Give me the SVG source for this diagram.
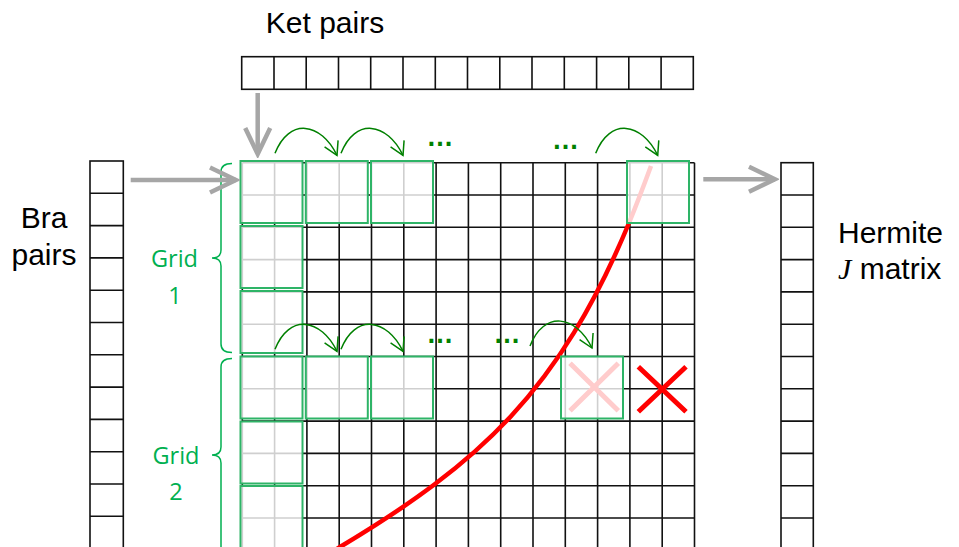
<svg xmlns="http://www.w3.org/2000/svg" width="959" height="547" viewBox="0 0 959 547">
<defs>
<style>
.cell{fill:none;stroke:#111;stroke-width:1.6}
.lbl{font-family:"Liberation Sans",Arial,sans-serif;font-size:30px;fill:#000}
.glbl{font-family:"Open Sans","Liberation Sans",sans-serif;font-size:23.5px;fill:#00B050;text-anchor:middle}
.blk{fill:#fff;fill-opacity:0.8;stroke:#2EB467;stroke-width:2}
.brace{fill:none;stroke:#00B050;stroke-width:1.5}
.gray{fill:none;stroke:#A6A6A6;stroke-width:4.5;marker-end:url(#grayhead)}
.hop{fill:none;stroke:#008000;stroke-width:1.5;marker-end:url(#greenhead)}
.dots{font-family:"Liberation Sans",sans-serif;font-size:27px;font-weight:bold;fill:#008000;text-anchor:middle}
.red{fill:none;stroke:#FF0000;stroke-width:4.5}
.x{fill:none;stroke:#FF0000;stroke-width:5}
</style>
<marker id="grayhead" markerUnits="userSpaceOnUse" viewBox="-4 -16 34 32" markerWidth="34" markerHeight="32" refX="26" refY="0" orient="auto">
<path d="M0,-12.5 L26,0 L0,12.5" fill="none" stroke="#A6A6A6" stroke-width="4.5"/>
</marker>
<marker id="greenhead" markerUnits="userSpaceOnUse" viewBox="-2 -10 18 20" markerWidth="18" markerHeight="20" refX="13" refY="0" orient="auto">
<path d="M0,-7.5 L13,0 L0,7.5" fill="none" stroke="#008000" stroke-width="1.5"/>
</marker>
</defs>
<rect width="959" height="547" fill="#fff"/>

<g id="ket-pairs">
<text class="lbl" x="325" y="33" text-anchor="middle">Ket pairs</text>
<rect class="cell" x="241.7" y="56.7" width="451.6" height="32.6"/>
<path class="cell" d="M274,56.7V89.3M306.2,56.7V89.3M338.5,56.7V89.3M370.7,56.7V89.3M403,56.7V89.3M435.3,56.7V89.3M467.5,56.7V89.3M499.8,56.7V89.3M532,56.7V89.3M564.3,56.7V89.3M596.6,56.7V89.3M628.8,56.7V89.3M661.1,56.7V89.3"/>
</g>

<g id="bra-pairs">
<text class="lbl" x="44" y="228" text-anchor="middle">Bra</text>
<text class="lbl" x="44" y="265" text-anchor="middle">pairs</text>
<rect class="cell" x="90" y="161" width="33.3" height="400"/>
<path class="cell" d="M90,193.3H123.3M90,225.6H123.3M90,257.9H123.3M90,290.2H123.3M90,322.5H123.3M90,354.8H123.3M90,387.1H123.3M90,419.4H123.3M90,451.7H123.3M90,484H123.3M90,516.3H123.3"/>
</g>

<g id="hermite-j-matrix">
<text class="lbl" x="838" y="243">Hermite</text>
<text class="lbl" x="838" y="279"><tspan font-family="'Liberation Serif',serif" font-style="italic">J</tspan> matrix</text>
<rect class="cell" x="781" y="162.7" width="32.3" height="400"/>
<path class="cell" d="M781,195H813.3M781,227.3H813.3M781,259.6H813.3M781,291.9H813.3M781,324.2H813.3M781,356.5H813.3M781,388.8H813.3M781,421.1H813.3M781,453.4H813.3M781,485.7H813.3M781,518H813.3"/>
</g>

<g id="matrix-grid">
<path class="cell" d="M242.3,162.7V560M274.6,162.7V560M306.9,162.7V560M339.2,162.7V560M371.5,162.7V560M403.8,162.7V560M436.1,162.7V560M468.4,162.7V560M500.7,162.7V560M533,162.7V560M565.3,162.7V560M597.6,162.7V560M629.9,162.7V560M662.2,162.7V560M694.5,162.7V560
M242.3,162.7H694.5M242.3,195H694.5M242.3,227.3H694.5M242.3,259.6H694.5M242.3,291.9H694.5M242.3,324.2H694.5M242.3,356.5H694.5M242.3,388.8H694.5M242.3,421.1H694.5M242.3,453.4H694.5M242.3,485.7H694.5M242.3,518H694.5"/>
</g>

<g id="cutoff">
<path class="red" d="M336,549.5 L340,547 C480,463 559,391 629,223 C636,206 644,185 651,166"/>
<path class="x" d="M570,363.3L618.3,410.7M618.3,363.3L570,410.7"/>
<path class="x" d="M638.3,366.7L686,411.7M686,366.7L638.3,411.7"/>
</g>

<g id="grid1">
<rect class="blk" x="240.5" y="161" width="62" height="62"/>
<rect class="blk" x="305.8" y="161" width="62" height="62"/>
<rect class="blk" x="371" y="161" width="62" height="62"/>
<rect class="blk" x="627" y="161" width="62" height="62"/>
<rect class="blk" x="240.5" y="226" width="62" height="62"/>
<rect class="blk" x="240.5" y="291" width="62" height="62"/>
<path class="brace" d="M232,163.5 Q221,163.5 221,172 L221,250 Q221,258 212,258 Q221,258 221,266 L221,344 Q221,352.5 232,352.5"/>
<text class="glbl" x="174.5" y="266.5">Grid</text>
<text class="glbl" x="175" y="303.5">1</text>
</g>

<g id="grid2">
<rect class="blk" x="240.5" y="356.5" width="62" height="62"/>
<rect class="blk" x="305.8" y="356.5" width="62" height="62"/>
<rect class="blk" x="371" y="356.5" width="62" height="62"/>
<rect class="blk" x="561" y="356.5" width="62" height="62"/>
<rect class="blk" x="240.5" y="421.5" width="62" height="62"/>
<rect class="blk" x="240.5" y="486" width="62" height="70"/>
<path class="brace" d="M232,358.5 Q221,358.5 221,367 L221,447 Q221,455 212,455 Q221,455 221,463 L221,560"/>
<text class="glbl" x="176" y="463.5">Grid</text>
<text class="glbl" x="176" y="500">2</text>
</g>

<g id="connectors">
<path class="gray" d="M257.7,93V154"/>
<path class="gray" d="M130.7,180H236"/>
<path class="gray" d="M703.3,179.3H775"/>
<path class="hop" d="M275,153.3c14,-36 46,-31 62,2"/>
<path class="hop" d="M341,153.3c14,-36 46,-31 62,2"/>
<path class="hop" d="M595.7,153.3c14,-36 46,-31 62,2"/>
<path class="hop" d="M275,349.3c14,-36 46,-31 62,2"/>
<path class="hop" d="M341,349.3c14,-36 46,-31 62,2"/>
<path class="hop" d="M530,346c14,-36 46,-31 62,2"/>
<text class="dots" x="440" y="146">…</text>
<text class="dots" x="565.5" y="149">…</text>
<text class="dots" x="440" y="342.5">…</text>
<text class="dots" x="507" y="343">…</text>
</g>
</svg>
